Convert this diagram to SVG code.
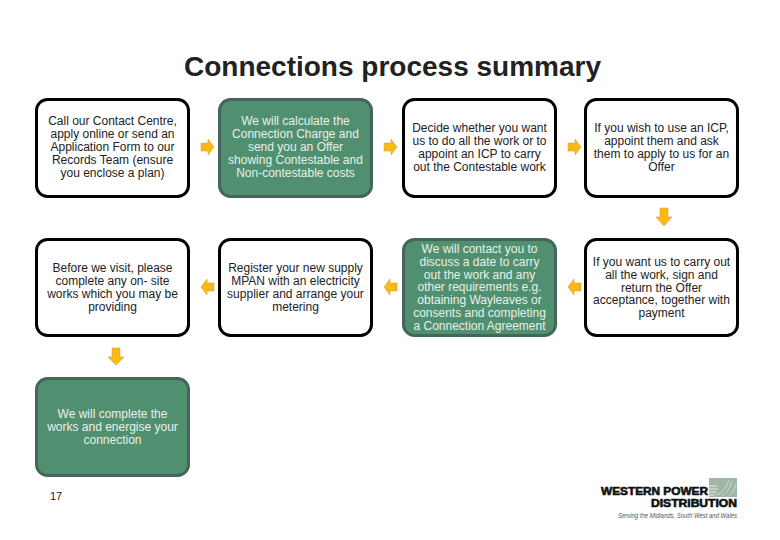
<svg xmlns="http://www.w3.org/2000/svg" width="780" height="540" viewBox="0 0 780 540">
<style>
text{font-family:"Liberation Sans",Arial,sans-serif}
.w{fill:#fff;stroke:#000;stroke-width:3}
.g{fill:#508f6f;stroke:#44655a;stroke-width:3}
.t{font-size:12px;text-anchor:middle;fill:#222}
.l{font-size:12px;text-anchor:middle;fill:#e8f2ec}
.a{fill:#fdb913;stroke:#c99a2e;stroke-width:.5}
.b{font-size:10.500px;font-weight:700;fill:#111;stroke:#111;stroke-width:.6}
</style>
<rect width="780" height="540" fill="#fff"/>
<text x="392.500" y="76" font-size="28" font-weight="700" text-anchor="middle" fill="#222">Connections process summary</text>
<g id="n1"><rect class="w" x="36.500" y="99.500" width="152" height="97" rx="11"/><text class="t" y="125"><tspan x="112.500">Call our Contact Centre,</tspan><tspan x="112.500" dy="13">apply online or send an</tspan><tspan x="112.500" dy="13">Application Form to our</tspan><tspan x="112.500" dy="13">Records Team (ensure</tspan><tspan x="112.500" dy="13">you enclose a plan)</tspan></text></g>
<g id="n2"><rect class="g" x="219.500" y="99.500" width="152" height="97" rx="11"/><text class="l" y="125"><tspan x="295.500">We will calculate the</tspan><tspan x="295.500" dy="13">Connection Charge and</tspan><tspan x="295.500" dy="13">send you an Offer</tspan><tspan x="295.500" dy="13">showing Contestable and</tspan><tspan x="295.500" dy="13">Non-contestable costs</tspan></text></g>
<g id="n3"><rect class="w" x="403.500" y="99.500" width="152" height="97" rx="11"/><text class="t" y="132"><tspan x="479.500">Decide whether you want</tspan><tspan x="479.500" dy="13">us to do all the work or to</tspan><tspan x="479.500" dy="13">appoint an ICP to carry</tspan><tspan x="479.500" dy="13">out the Contestable work</tspan></text></g>
<g id="n4"><rect class="w" x="585.500" y="99.500" width="152" height="97" rx="11"/><text class="t" y="132"><tspan x="661.500">If you wish to use an ICP,</tspan><tspan x="661.500" dy="13">appoint them and ask</tspan><tspan x="661.500" dy="13">them to apply to us for an</tspan><tspan x="661.500" dy="13">Offer</tspan></text></g>
<g id="n5"><rect class="w" x="585.500" y="239.500" width="152" height="96" rx="11"/><text class="t" y="266"><tspan x="661.500">If you want us to carry out</tspan><tspan x="661.500" dy="12.800">all the work, sign and</tspan><tspan x="661.500" dy="12.800">return the Offer</tspan><tspan x="661.500" dy="12.800">acceptance, together with</tspan><tspan x="661.500" dy="12.800">payment</tspan></text></g>
<g id="n6"><rect class="g" x="403.500" y="239.500" width="152" height="96" rx="11"/><text class="l" y="253"><tspan x="479.500">We will contact you to</tspan><tspan x="479.500" dy="12.800">discuss a date to carry</tspan><tspan x="479.500" dy="12.800">out the work and any</tspan><tspan x="479.500" dy="12.800">other requirements e.g.</tspan><tspan x="479.500" dy="12.800">obtaining Wayleaves or</tspan><tspan x="479.500" dy="12.800">consents and completing</tspan><tspan x="479.500" dy="12.800">a Connection Agreement</tspan></text></g>
<g id="n7"><rect class="w" x="219.500" y="239.500" width="152" height="96" rx="11"/><text class="t" y="272"><tspan x="295.500">Register your new supply</tspan><tspan x="295.500" dy="13">MPAN with an electricity</tspan><tspan x="295.500" dy="13">supplier and arrange your</tspan><tspan x="295.500" dy="13">metering</tspan></text></g>
<g id="n8"><rect class="w" x="36.500" y="239.500" width="152" height="96" rx="11"/><text class="t" y="272"><tspan x="112.500">Before we visit, please</tspan><tspan x="112.500" dy="13">complete any on- site</tspan><tspan x="112.500" dy="13">works which you may be</tspan><tspan x="112.500" dy="13">providing</tspan></text></g>
<g id="n9"><rect class="g" x="36.500" y="378.500" width="152" height="97" rx="11"/><text class="l" y="418"><tspan x="112.500">We will complete the</tspan><tspan x="112.500" dy="13">works and energise your</tspan><tspan x="112.500" dy="13">connection</tspan></text></g>
<g id="connectors">
<path class="a" d="M201 143h7v-4l6 8-6 8v-4h-7z"/>
<path class="a" d="M384 143h7v-4l6 8-6 8v-4h-7z"/>
<path class="a" d="M568 143h7v-4l6 8-6 8v-4h-7z"/>
<path class="a" d="M660 208h8v9h4l-8 9-8-9h4z"/>
<path class="a" d="M581 283h-7v-4l-6 8 6 8v-4h7z"/>
<path class="a" d="M397 283h-7v-4l-6 8 6 8v-4h7z"/>
<path class="a" d="M214 283h-7v-4l-6 8 6 8v-4h7z"/>
<path class="a" d="M112 348h8v9h4l-8 8-8-8h4z"/>
</g>
<text x="50" y="500" font-size="11" fill="#222">17</text>
<g id="logo">
<rect x="709" y="478" width="28" height="19" fill="#9fb5a5"/>
<path d="M709 486h8M709 489h9M709 492h7M709 495h5" fill="none" stroke="#fff" stroke-width=".8"/>
<path d="M716 495c6-2 11-8 13-15M722 496c4-3 8-7 10-15M729 496c3-2 5-5 7-12" fill="none" stroke="#e6eee8" stroke-width=".7"/>
<text class="b" x="601" y="495" textLength="107" lengthAdjust="spacingAndGlyphs">WESTERN POWER</text>
<text class="b" x="651" y="507" textLength="86" lengthAdjust="spacingAndGlyphs">DISTRIBUTION</text>
<text x="618" y="518" font-size="7.500" font-family="Liberation Serif" font-style="italic" textLength="119" lengthAdjust="spacingAndGlyphs" fill="#555">Serving the Midlands, South West and Wales</text>
</g>
</svg>
